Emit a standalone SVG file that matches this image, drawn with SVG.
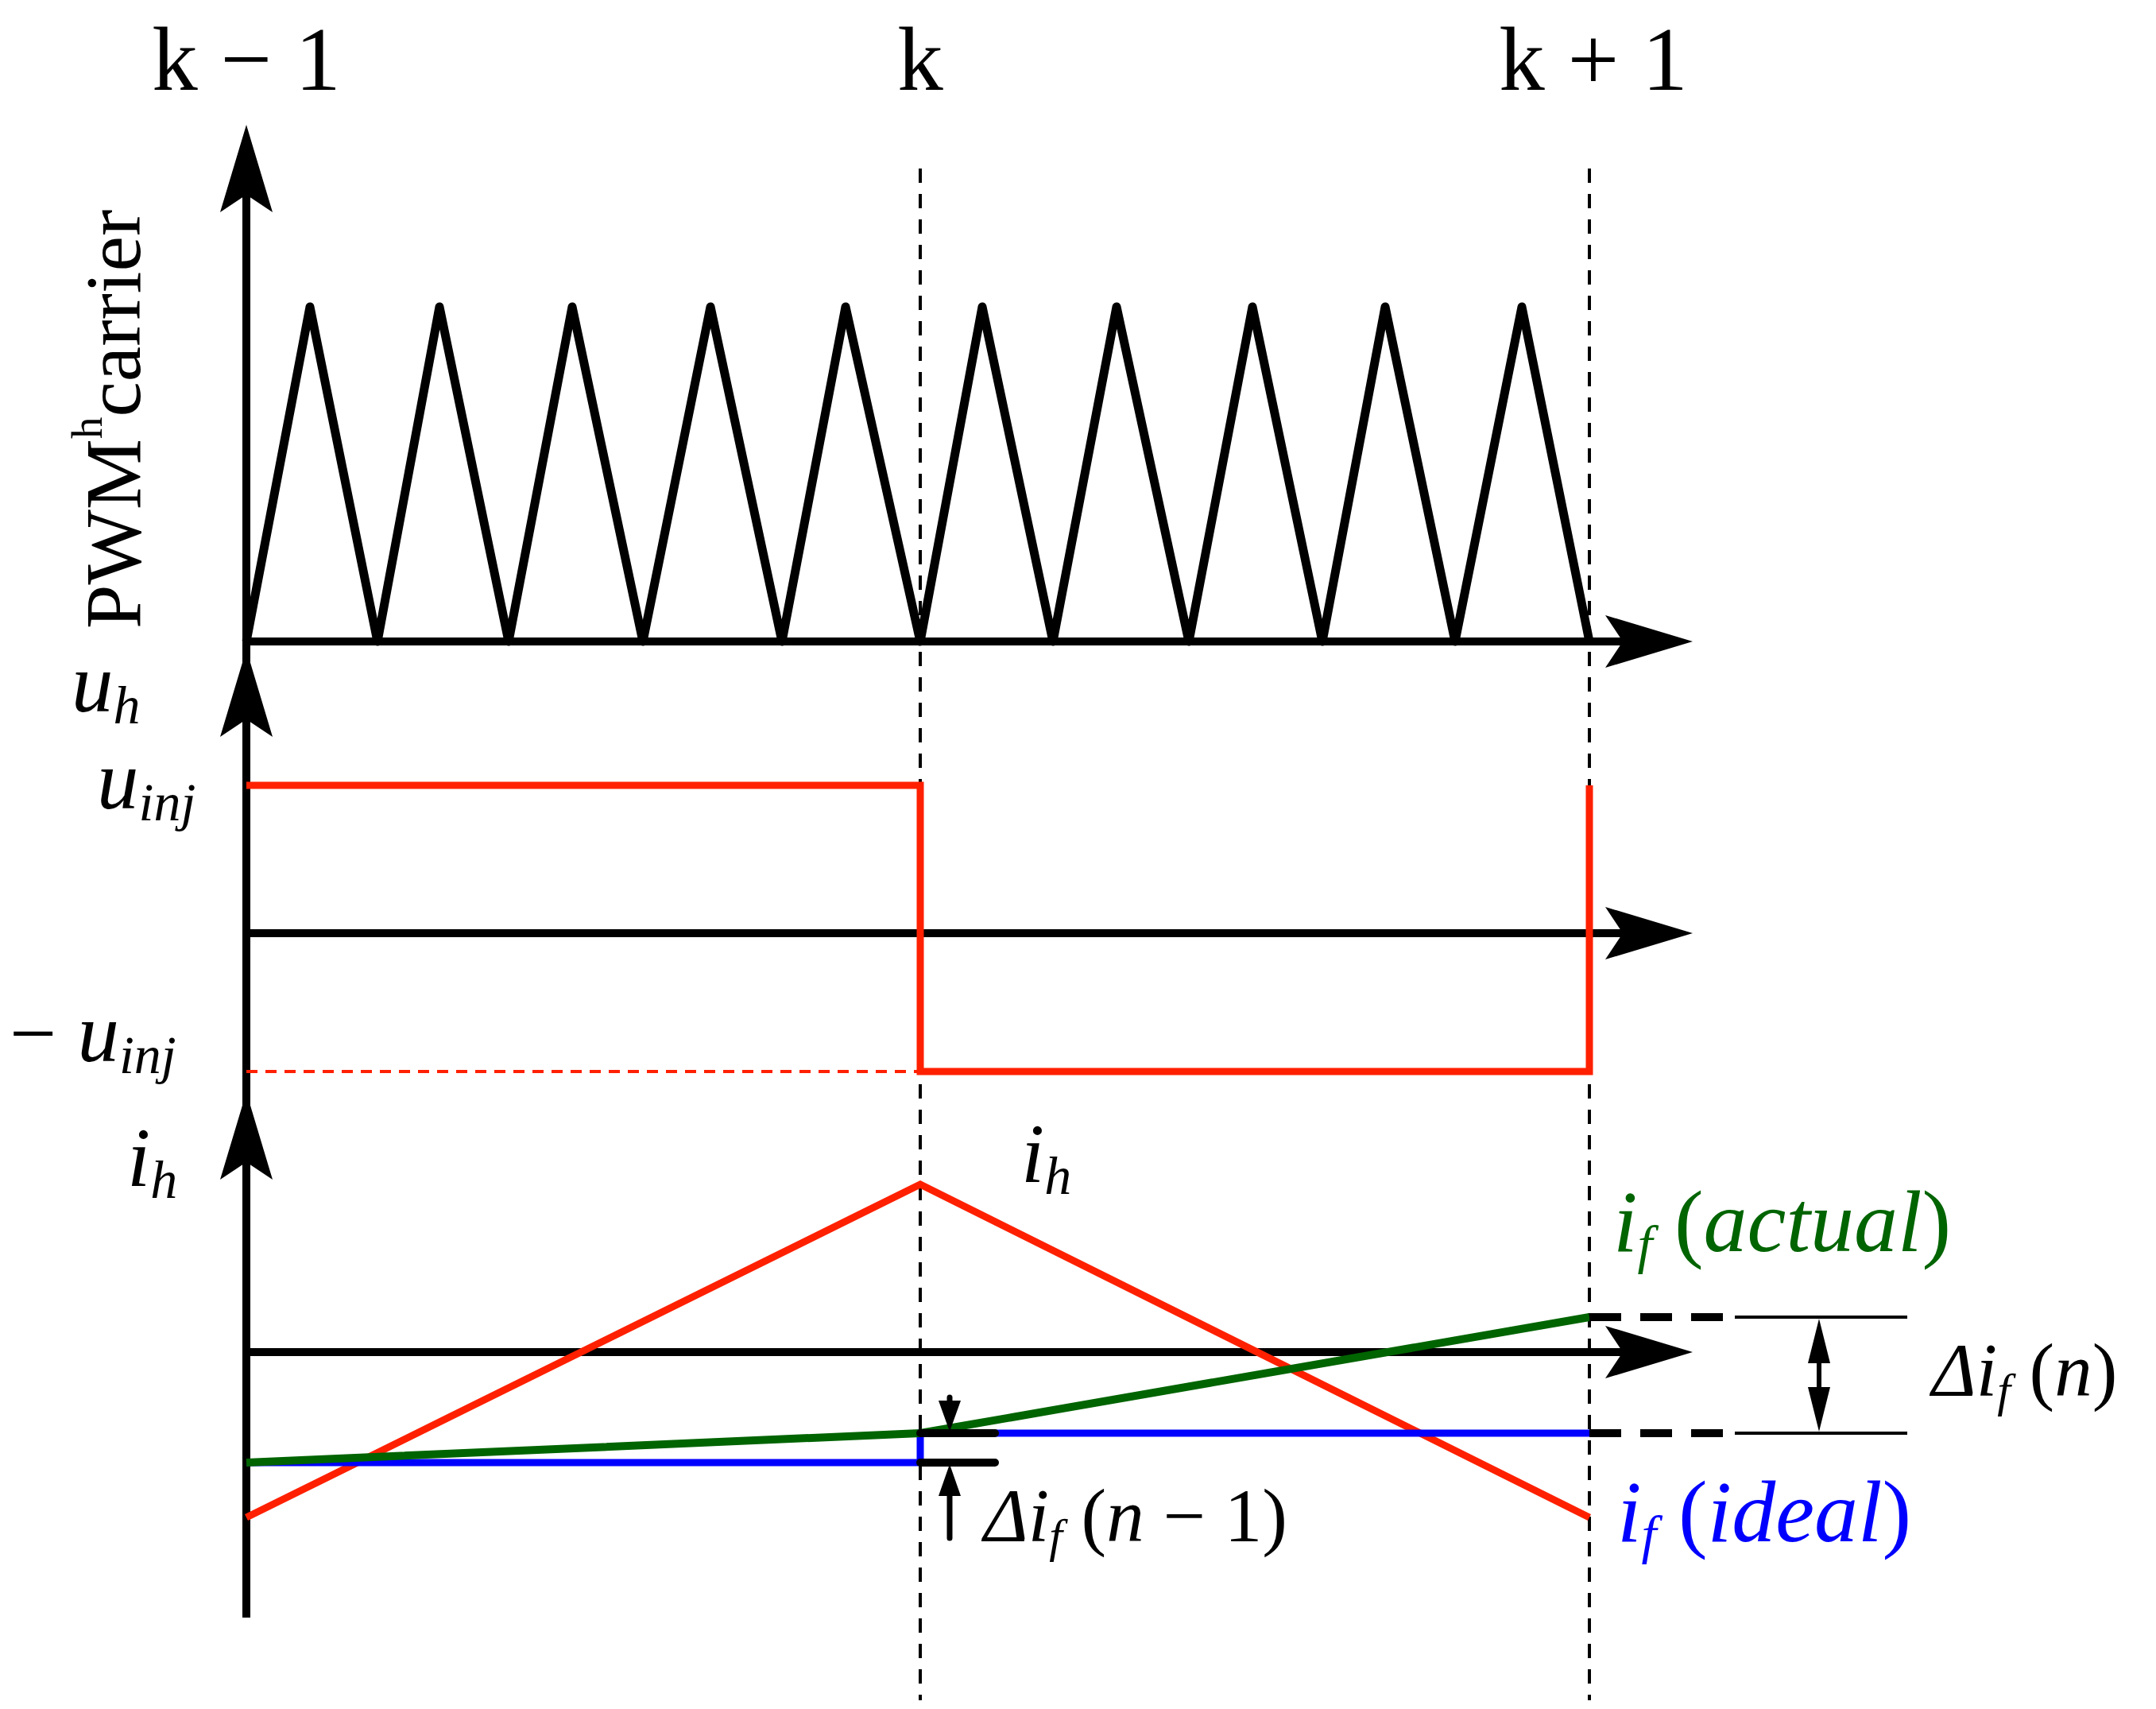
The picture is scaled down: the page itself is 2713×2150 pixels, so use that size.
<svg xmlns="http://www.w3.org/2000/svg" width="2713" height="2150" viewBox="0 0 2713 2150">
<style>
.ax{stroke:#000;stroke-width:10;fill:none}
.dash{stroke:#000;stroke-width:4;stroke-dasharray:18,14;fill:none}
.t{font-family:"Liberation Serif",serif;fill:#000}
.m{font-family:"Liberation Serif",serif;font-style:italic}
.u{font-style:normal}
</style>
<defs>
<polygon id="au" points="0,0 33,110 0,88 -33,110"/>
<polygon id="ar" points="0,0 -110,33 -88,0 -110,-33"/>
</defs>
<rect width="2713" height="2150" fill="#fff"/>
<g id="labels">
<text class="t" x="310" y="113" font-size="115" text-anchor="middle">k − 1</text>
<text class="t" x="1158" y="113" font-size="115" text-anchor="middle">k</text>
<text class="t" x="2005" y="113" font-size="115" text-anchor="middle">k + 1</text>
<text class="t" font-size="100" transform="translate(176,791) rotate(-90)">PWM<tspan font-size="55" dy="-48">h</tspan><tspan dy="48">carrier</tspan></text>
<text class="t m" x="90" y="895" font-size="105">u<tspan font-size="68" dy="15">h</tspan></text>
<text class="t m" x="122" y="1017" font-size="105">u<tspan font-size="68" dy="15">inj</tspan></text>
<text class="t m" x="12" y="1335" font-size="105"><tspan class="u">−</tspan> u<tspan font-size="68" dy="15">inj</tspan></text>
<text class="t m" x="160" y="1492" font-size="105">i<tspan font-size="68" dy="15">h</tspan></text>
<text class="t m" x="1285" y="1487" font-size="105">i<tspan font-size="68" dy="15">h</tspan></text>
<text class="m" x="2030" y="1574" font-size="110" fill="#006400">i<tspan font-size="68" dy="15">f</tspan><tspan dy="-15" class="u"> (</tspan>actual<tspan class="u">)</tspan></text>
<text class="m" x="2035" y="1939" font-size="110" fill="#0000ff">i<tspan font-size="68" dy="15">f</tspan><tspan dy="-15" class="u"> (</tspan>ideal<tspan class="u">)</tspan></text>
<text class="t m" x="2431" y="1756" font-size="95">Δi<tspan font-size="60" dy="13">f</tspan><tspan dy="-13" class="u"> (</tspan>n<tspan class="u">)</tspan></text>
<text class="t m" x="1238" y="1939" font-size="95">Δi<tspan font-size="60" dy="13">f</tspan><tspan dy="-13" class="u"> (</tspan>n<tspan class="u"> − 1)</tspan></text>
</g>
<g id="axes">
<line class="ax" x1="310" y1="200" x2="310" y2="2035"/>
<use href="#au" x="310" y="157"/>
<use href="#au" x="310" y="817"/>
<use href="#au" x="310" y="1374"/>
<line class="ax" x1="310" y1="807" x2="2080" y2="807"/>
<use href="#ar" x="2130" y="807"/>
<line class="ax" x1="310" y1="1174" x2="2080" y2="1174"/>
<use href="#ar" x="2130" y="1174"/>
<line class="ax" x1="310" y1="1701" x2="2080" y2="1701"/>
<use href="#ar" x="2130" y="1701"/>
</g>
<g id="guides">
<line class="dash" x1="1158" y1="212" x2="1158" y2="2139"/>
<line class="dash" x1="2000" y1="212" x2="2000" y2="2139"/>
</g>
<g id="carrier">
<polyline fill="none" stroke="#000" stroke-width="11" stroke-linejoin="round" points="310,807 390,386 475,807 553,386 640,807 720,386 809,807 894,386 984,807 1064,386 1158,807 1236,386 1325,807 1405,386 1496,807 1576,386 1664,807 1743,386 1831,807 1915,386 2000,807"/>
</g>
<g id="uh">
<polyline fill="none" stroke="#ff2000" stroke-width="9" points="310,988 1158,988 1158,1348 2000,1348 2000,988"/>
<line x1="310" y1="1348" x2="1158" y2="1348" stroke="#ff2000" stroke-width="4" stroke-dasharray="14,10"/>
</g>
<g id="currents">
<polyline fill="none" stroke="#ff2000" stroke-width="9" points="310,1909 1158,1490 2000,1909"/>
<polyline fill="none" stroke="#0000ff" stroke-width="9" points="310,1840 1158,1840 1158,1803 2000,1803"/>
<polyline fill="none" stroke="#006400" stroke-width="10" points="310,1840 1158,1803 2000,1657"/>
</g>
<g id="connectors">
<line x1="2000" y1="1657" x2="2183" y2="1657" stroke="#000" stroke-width="10" stroke-dasharray="40,24"/>
<line x1="2000" y1="1803" x2="2183" y2="1803" stroke="#000" stroke-width="10" stroke-dasharray="40,24"/>
<line x1="2183" y1="1657" x2="2400" y2="1657" stroke="#000" stroke-width="4"/>
<line x1="2183" y1="1803" x2="2400" y2="1803" stroke="#000" stroke-width="4"/>
<line x1="2289" y1="1700" x2="2289" y2="1760" stroke="#000" stroke-width="6"/>
<polygon points="2289,1659 2303,1715 2275,1715"/>
<polygon points="2289,1801 2303,1745 2275,1745"/>
<line x1="1158" y1="1803" x2="1252" y2="1803" stroke="#000" stroke-width="10" stroke-linecap="round"/>
<line x1="1158" y1="1840" x2="1252" y2="1840" stroke="#000" stroke-width="10" stroke-linecap="round"/>
<line x1="1195" y1="1758" x2="1195" y2="1770" stroke="#000" stroke-width="7" stroke-linecap="round"/>
<polygon points="1195,1801 1209,1762 1181,1762"/>
<line x1="1195" y1="1875" x2="1195" y2="1935" stroke="#000" stroke-width="7" stroke-linecap="round"/>
<polygon points="1195,1842 1209,1882 1181,1882"/>
</g>
</svg>
